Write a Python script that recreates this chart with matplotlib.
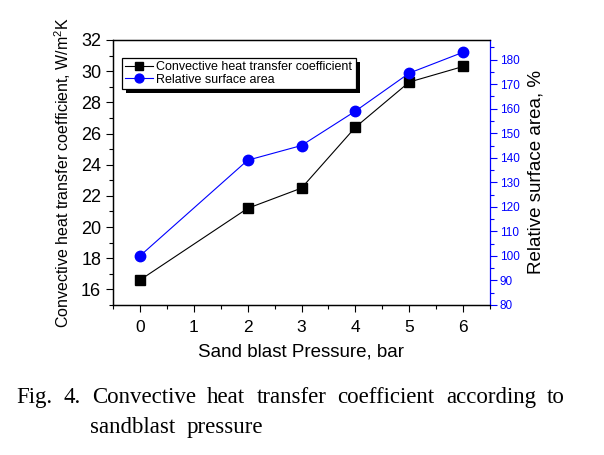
import matplotlib
matplotlib.use("Agg")
import matplotlib.pyplot as plt
from matplotlib.ticker import MultipleLocator
from matplotlib.patches import Rectangle
from matplotlib import font_manager

pressure = [0, 2, 3, 4, 5, 6]
htc = [16.6, 21.2, 22.5, 26.4, 29.3, 30.3]
rel_area = [100, 139, 145, 159, 174.5, 183]
x_ticks = [0, 1, 2, 3, 4, 5, 6]

plt.rcParams['font.family'] = ['Liberation Sans', 'DejaVu Sans']

available = {f.name for f in font_manager.fontManager.ttflist}
if 'Liberation Sans Narrow' in available:
    leg_font = dict(family='Liberation Sans Narrow', size=10.5)
else:
    leg_font = dict(family='Liberation Sans', size=9)

fig = plt.figure(figsize=(6.04, 4.55), dpi=100)
ax = fig.add_axes([113/604, 1-305/455, 377/604, 265/455])
ax2 = ax.twinx()

l1, = ax.plot(pressure, htc, color='black', lw=0.8, marker='s', ms=7,
              mfc='black', mec='black', label='Convective heat transfer coefficient')
l2, = ax2.plot(pressure, rel_area, color='#0000ff', lw=0.8, marker='o', ms=7.5,
               mfc='#0000ff', mec='#0000ff', label='Relative surface area')

ax.set_xlim(-0.5, 6.5)
ax.set_ylim(15, 32)
ax2.set_ylim(80, 188)

ax.set_xticks(x_ticks)
ax.xaxis.set_minor_locator(MultipleLocator(0.5))
ax.set_yticks([16, 18, 20, 22, 24, 26, 28, 30, 32])
ax.yaxis.set_minor_locator(MultipleLocator(1))
ax2.yaxis.set_major_locator(MultipleLocator(10))
ax2.yaxis.set_minor_locator(MultipleLocator(5))

ax.tick_params(axis='both', which='major', direction='out', length=5, width=0.8, labelsize=13)
ax.tick_params(axis='x', which='major', labelsize=12.5, pad=6)
ax.tick_params(axis='both', which='minor', direction='out', length=3, width=0.8)
ax.tick_params(axis='y', which='both', right=False)
ax.tick_params(axis='x', which='both', top=False)
ax2.tick_params(axis='y', which='major', direction='out', length=5, width=0.8,
                colors='#0000ff', labelsize=8.5, pad=2)
ax2.tick_params(axis='y', which='minor', direction='out', length=3, width=0.8, colors='#0000ff')

for s in ['left', 'top', 'bottom']:
    ax.spines[s].set_linewidth(0.9)
    ax2.spines[s].set_linewidth(0.9)
ax2.spines['right'].set_color('#0000ff')
ax2.spines['right'].set_linewidth(0.9)
ax.spines['right'].set_visible(False)

ax.set_xlabel('Sand blast Pressure, bar', fontsize=13.5, labelpad=6)
ax.set_ylabel('Convective heat transfer coefficient, W/m$^\\mathregular{2}$K', fontsize=11.5, labelpad=6)
ax2.set_ylabel('Relative surface area, %', fontsize=13.5, labelpad=6)

leg = ax2.legend(handles=[l1, l2], loc='upper left', bbox_to_anchor=(0.024, 0.932),
                 borderaxespad=0, frameon=True, fancybox=False, edgecolor='black',
                 framealpha=1, prop=leg_font, handlelength=2.2, handletextpad=0.3,
                 borderpad=0.25, labelspacing=0.05, markerscale=0.85)
leg.get_frame().set_linewidth(0.9)
leg.set_zorder(10)

fig.canvas.draw()
renderer = fig.canvas.get_renderer()
bb = leg.get_window_extent(renderer)
shadow = Rectangle((bb.x0 + 4, bb.y0 - 4), bb.width, bb.height, transform=None,
                   facecolor='black', edgecolor='none', zorder=9)
ax2.add_artist(shadow)

# caption (justified first line)
cap_font = dict(family=['Liberation Serif', 'DejaVu Serif'], fontsize=16.5)
line1 = ['Fig.', '4.', 'Convective', 'heat', 'transfer', 'coefficient', 'according', 'to']
x_start, x_end, y1 = 16, 565, 455 - 403
texts = [fig.text(0, 0, w, transform=None, **cap_font) for w in line1]
fig.canvas.draw()
widths = [t.get_window_extent(renderer).width for t in texts]
gap = (x_end - x_start - sum(widths)) / (len(line1) - 1)
x = x_start
for t, w in zip(texts, widths):
    t.set_position((x, y1))
    x += w + gap
fig.text(90, 455 - 433, 'sandblast', transform=None, **cap_font)
fig.text(263, 455 - 433, 'pressure', transform=None, ha='right', **cap_font)

fig.savefig('out.png', dpi=100)
